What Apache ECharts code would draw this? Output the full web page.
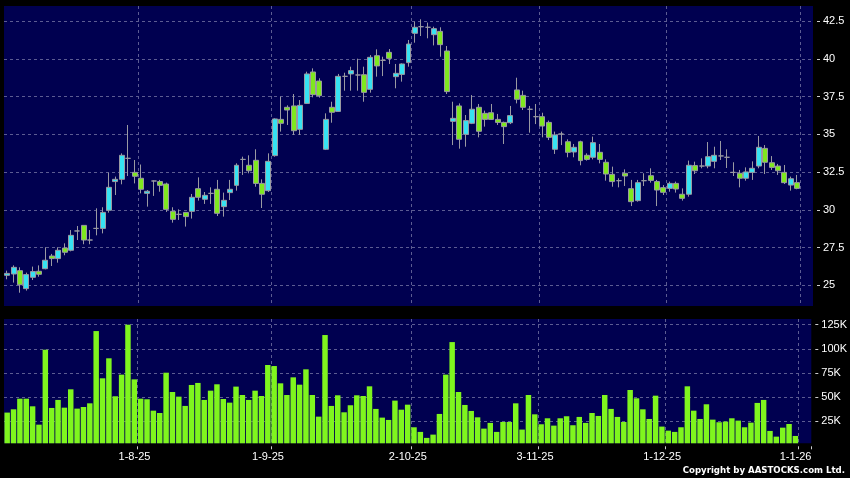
<!DOCTYPE html>
<html>
<head>
<meta charset="utf-8">
<script src="https://cdn.jsdelivr.net/npm/echarts@6/dist/echarts.min.js"></script>
<style>
html,body{margin:0;padding:0;background:#000;}
#chart{width:850px;height:478px;}
</style>
</head>
<body>
<div id="chart"></div>
<script>
// Trading dates (d-m-yy); two trailing slots are empty space on the right of the chart
const dates = [
 '3-7-25','4-7-25','7-7-25','8-7-25','9-7-25','10-7-25','11-7-25','14-7-25','15-7-25','16-7-25','17-7-25','18-7-25','21-7-25','22-7-25','23-7-25','24-7-25','25-7-25','28-7-25','29-7-25','30-7-25','31-7-25',
 '1-8-25','4-8-25','5-8-25','6-8-25','7-8-25','8-8-25','11-8-25','12-8-25','13-8-25','14-8-25','15-8-25','18-8-25','19-8-25','20-8-25','21-8-25','22-8-25','25-8-25','26-8-25','27-8-25','28-8-25','29-8-25',
 '1-9-25','2-9-25','3-9-25','4-9-25','5-9-25','8-9-25','9-9-25','10-9-25','11-9-25','12-9-25','15-9-25','16-9-25','17-9-25','18-9-25','19-9-25','22-9-25','23-9-25','24-9-25','25-9-25','26-9-25','29-9-25','30-9-25',
 '2-10-25','3-10-25','6-10-25','8-10-25','9-10-25','10-10-25','13-10-25','14-10-25','15-10-25','16-10-25','17-10-25','20-10-25','21-10-25','22-10-25','23-10-25','24-10-25','27-10-25','28-10-25','30-10-25','31-10-25',
 '3-11-25','4-11-25','5-11-25','6-11-25','7-11-25','10-11-25','11-11-25','12-11-25','13-11-25','14-11-25','17-11-25','18-11-25','19-11-25','20-11-25','21-11-25','24-11-25','25-11-25','26-11-25','27-11-25','28-11-25',
 '1-12-25','2-12-25','3-12-25','4-12-25','5-12-25','8-12-25','9-12-25','10-12-25','11-12-25','12-12-25','15-12-25','16-12-25','17-12-25','18-12-25','19-12-25','22-12-25','23-12-25','24-12-25','29-12-25','30-12-25','31-12-25',
 '1-1-26',''
];
const monthLabels = ['1-8-25','1-9-25','2-10-25','3-11-25','1-12-25','1-1-26'];
const priceTicks = [25, 27.5, 30, 32.5, 35, 37.5, 40, 42.5];
const volumeTicks = [25000, 50000, 75000, 100000, 125000];

const opens = [25.66,25.75,25.97,24.78,25.53,25.93,26.10,26.94,26.77,27.47,27.32,28.60,28.97,28.00,28.77,28.77,29.97,31.87,32.02,33.41,32.48,
 32.09,31.09,31.91,31.87,31.71,29.90,29.70,29.83,29.90,31.40,30.70,31.09,31.36,30.21,31.14,31.62,33.34,32.95,33.28,31.75,31.27,
 33.59,35.99,36.79,36.88,35.33,37.05,39.13,38.53,34.01,36.79,36.52,38.84,39.00,38.93,38.95,37.98,40.21,39.90,40.43,38.82,38.97,39.75,
 41.69,42.13,42.09,41.60,41.82,40.52,35.86,36.88,35.00,35.73,36.79,36.39,36.43,35.99,35.79,35.77,37.94,37.58,36.66,36.17,
 36.17,35.79,34.01,35.02,34.51,33.83,34.51,33.61,33.48,33.81,33.15,32.35,31.93,32.42,31.40,30.61,31.93,32.26,31.87,31.47,
 31.42,31.75,31.03,31.03,32.93,32.90,32.90,33.21,33.57,33.48,32.48,32.42,32.09,32.48,32.90,34.07,33.12,32.90,32.48,31.64,31.80];
const closes = [25.79,26.19,25.04,25.71,25.91,25.73,26.66,26.77,27.32,27.19,28.31,28.60,28.00,28.00,28.77,29.83,31.49,32.02,33.61,33.41,32.22,
 31.36,31.23,31.91,31.62,30.03,29.37,29.70,29.55,30.83,30.83,30.96,31.09,29.77,30.63,31.36,32.95,33.34,32.59,31.75,31.03,33.21,
 36.02,35.73,36.61,35.24,36.92,39.00,37.63,37.56,35.99,36.46,38.84,38.84,39.22,38.93,37.78,40.10,39.53,39.90,40.03,39.04,39.66,40.98,
 42.09,42.13,42.09,42.00,40.94,37.83,36.06,34.67,35.91,36.66,35.20,35.99,35.99,35.79,35.51,36.24,37.32,36.79,36.66,36.17,
 35.55,34.80,34.96,35.02,33.81,34.14,33.26,33.34,34.45,33.34,32.37,31.87,31.93,32.24,30.54,31.80,31.93,31.95,31.31,31.16,
 31.75,31.38,30.76,32.95,32.59,32.90,33.52,33.61,33.57,33.48,32.48,32.09,32.51,32.75,34.14,33.15,32.81,32.59,31.80,32.06,31.42];
const lows = [25.40,25.18,24.51,24.65,25.35,25.57,26.06,26.28,26.50,26.99,27.25,28.00,27.72,27.72,28.31,28.44,29.81,30.98,31.69,32.24,31.75,
 31.09,30.21,30.92,31.20,29.86,29.15,29.33,28.89,29.42,30.61,30.39,30.39,29.59,29.55,30.65,31.27,32.31,32.42,31.53,30.12,31.18,
 33.52,35.18,35.62,34.96,34.96,37.01,37.45,37.43,33.96,35.77,36.48,37.89,37.89,37.89,37.16,37.76,38.82,38.86,39.66,38.05,38.49,39.48,
 41.07,41.51,41.36,40.89,40.14,37.67,34.29,34.05,34.18,35.68,34.80,35.51,35.95,35.62,34.36,35.68,37.05,36.61,35.11,35.68,
 34.80,34.62,33.70,34.29,33.48,33.48,32.95,33.26,33.34,33.08,31.93,31.53,31.49,31.58,30.25,30.54,31.58,31.80,30.25,30.98,
 31.20,31.14,30.61,30.87,32.37,32.75,32.75,32.75,33.30,32.77,32.24,31.49,31.93,31.98,32.75,32.37,32.64,32.31,31.71,31.27,31.36];
const highs = [25.97,26.32,26.19,25.84,26.24,26.32,27.52,27.08,27.52,27.78,28.66,28.93,28.97,28.66,30.10,30.17,32.46,32.20,33.74,35.62,33.30,
 33.00,31.31,31.95,31.98,31.80,30.17,30.03,29.86,31.05,32.15,31.18,31.49,31.98,31.14,31.98,33.08,33.52,33.61,34.01,32.02,33.74,
 36.06,37.49,36.92,37.67,37.27,39.15,39.37,38.71,36.39,37.16,39.00,39.08,39.48,40.01,39.48,40.25,40.63,40.14,40.65,39.66,39.70,41.25,
 42.46,42.62,42.40,42.13,42.09,40.85,37.16,37.05,36.28,37.60,37.01,36.57,37.01,36.35,35.84,36.88,38.75,37.89,36.88,37.01,
 36.43,35.91,35.18,35.18,34.67,34.36,34.58,33.74,34.85,34.36,33.34,32.86,32.09,32.68,31.98,31.98,32.42,32.75,31.98,31.64,
 31.87,31.87,31.42,33.26,33.19,33.41,34.49,34.18,34.56,34.01,33.15,32.64,32.81,33.21,34.89,34.29,33.56,33.04,32.97,32.20,32.31];
const volumes = [34000,37400,48400,48400,40500,21500,99100,38800,47100,39100,58100,38100,39800,43600,118400,69500,90200,50900,73300,125000,68400,
 48400,47800,36000,33600,75300,55300,50500,40900,62600,64700,47100,56700,63300,48100,44300,60900,52200,47100,56700,51200,83300,
 82200,64300,52200,70500,62900,78800,52200,29800,114300,40900,51900,34300,41600,51900,51200,61200,37800,28800,26400,46400,37000,42200,
 18800,14000,7800,11200,32600,73300,107000,55300,41900,35700,29100,17400,23300,14000,24300,24300,43600,16400,52200,32200,
 21900,28100,20500,28100,30200,20900,29500,23300,33600,30500,52200,37800,29500,24300,57400,48800,37400,27400,51500,19500,
 15300,14000,18800,61200,36000,27400,42600,26700,24000,24700,28100,25700,18800,23600,44000,47100,15000,9100,18400,22200,9800];

const candleData = opens.map((o, i) => [o, closes[i], lows[i], highs[i]]);
const isMonth = (idx, val) => monthLabels.indexOf(val) >= 0;

const lineColor = '#5c5c92';
const hLine = { show: true, lineStyle: { color: lineColor, width: 1, type: [3, 3] } };
// one colour per month line, the trailing edge line is left transparent
const vColors = monthLabels.map(() => lineColor).concat(['rgba(0,0,0,0)']);
const vLine = { show: true, interval: isMonth, lineStyle: { color: vColors, width: 1, type: [3, 3] } };
const axisFont = { color: '#ffffff', fontSize: 11, fontFamily: 'Liberation Sans, Arial, sans-serif' };

const chart = echarts.init(document.getElementById('chart'), null, { renderer: 'canvas' });
chart.setOption({
  backgroundColor: '#000000',
  animation: false,
  grid: [
    { left: 4, top: 6, width: 809, height: 300, show: true, backgroundColor: '#000050', borderWidth: 0 },
    { left: 4, top: 319, width: 809, height: 124.3, show: true, backgroundColor: '#000050', borderWidth: 0 }
  ],
  xAxis: [
    { type: 'category', gridIndex: 0, data: dates, boundaryGap: true,
      axisLine: { show: false }, axisTick: { show: false }, axisLabel: { show: false },
      splitLine: vLine },
    { type: 'category', gridIndex: 1, data: dates, boundaryGap: true, offset: 3,
      axisLine: { show: false },
      axisTick: { show: true, interval: isMonth, length: 3, lineStyle: { color: '#cccccc' } },
      axisLabel: Object.assign({ interval: isMonth, margin: 5, padding: [0, 12.4, 0, 0] }, axisFont),
      splitLine: vLine }
  ],
  yAxis: [
    { type: 'value', gridIndex: 0, position: 'right', min: 23.63, max: 43.5, offset: 4,
      axisLine: { show: false },
      axisTick: { show: true, length: 3, customValues: priceTicks, lineStyle: { color: '#cccccc' } },
      axisLabel: Object.assign({ customValues: priceTicks, margin: 6 }, axisFont),
      splitLine: hLine },
    { type: 'value', gridIndex: 1, position: 'right', min: 2200, max: 130900, offset: 4,
      axisLine: { show: false },
      axisTick: { show: true, length: 3, customValues: volumeTicks, lineStyle: { color: '#cccccc' } },
      axisLabel: Object.assign({ customValues: volumeTicks, margin: 6, formatter: v => (v / 1000) + 'K' }, axisFont),
      splitLine: hLine }
  ],
  series: [
    { type: 'candlestick', xAxisIndex: 0, yAxisIndex: 0, data: candleData, barWidth: '86%',
      itemStyle: { color: '#36e2f2', color0: '#7fe81f', borderColor: '#9a9aa2', borderColor0: '#9a9aa2', borderColorDoji: '#9a9aa2', borderWidth: 1 } },
    { type: 'bar', xAxisIndex: 1, yAxisIndex: 1, data: volumes, barCategoryGap: '14%', clip: true,
      itemStyle: { color: '#7ff51e' } }
  ],
  graphic: [
    { type: 'text', right: 5, top: 466,
      style: { text: 'Copyright by AASTOCKS.com Ltd.', fill: '#ffffff', font: 'bold 8.6px "DejaVu Sans", sans-serif' } }
  ]
});
</script>
</body>
</html>
